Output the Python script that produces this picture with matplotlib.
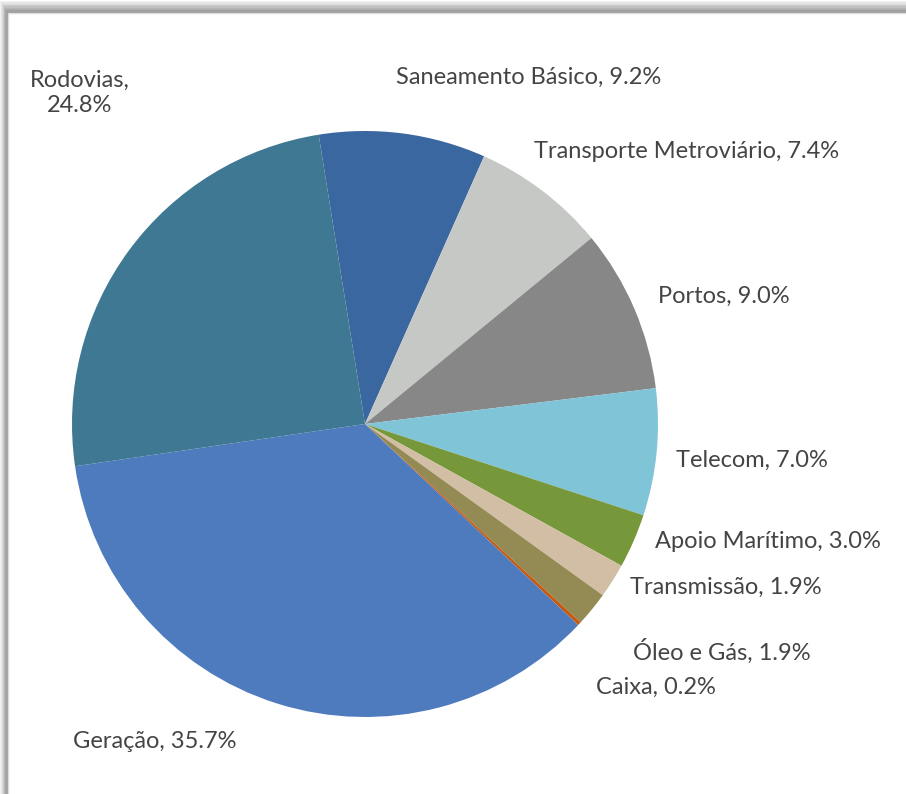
import matplotlib
matplotlib.use("Agg")
import matplotlib.pyplot as plt
from matplotlib.patches import Rectangle

# data, clockwise starting from the top
labels = ["Saneamento Básico", "Transporte Metroviário", "Portos", "Telecom",
          "Apoio Marítimo", "Transmissão", "Óleo e Gás", "Caixa", "Geração", "Rodovias"]
values = [9.2, 7.4, 9.0, 7.0, 3.0, 1.9, 1.9, 0.2, 35.7, 24.8]
colors = ["#3B67A0", "#C6C8C5", "#878787", "#80C4D8", "#77973B",
          "#D2BEA4", "#948A54", "#C55A11", "#4E7BBE", "#3E7892"]

# label centres in pixels (x, y from top)
label_pos = [(529, 77), (687, 151), (724, 296), (752, 460), (768, 541),
             (726, 587), (722, 651), (656, 687), (155, 741), (80, 93)]

W, H = 906, 794
fig = plt.figure(figsize=(W / 100, H / 100), dpi=100)

# background with drop shadow on top/left
bg = fig.add_axes([0, 0, 1, 1])
bg.set_xlim(0, W)
bg.set_ylim(H, 0)
bg.axis("off")
bg.add_patch(Rectangle((0, 0), W, H, color="white"))
shades = ["#f2f2f2", "#e6e6e6", "#dadada", "#cdcdcd", "#c1c1c1", "#b5b5b5",
          "#aaaaaa", "#a2a2a2", "#9c9c9c"]
n = len(shades)
for i, c in enumerate(shades):
    top = 1 + i * 12 / n
    left = i * 8 / n
    bg.add_patch(Rectangle((left, top), W, H, color=c, lw=0))
bg.add_patch(Rectangle((8, 13), W, H, facecolor="white", edgecolor="#dddddd", lw=1))

# pie
cx, cy, r = 365, 424, 293
ax = fig.add_axes([(cx - r) / W, (H - cy - r) / H, 2 * r / W, 2 * r / H])
ax.pie(values, colors=colors, startangle=99.1, counterclock=False,
       wedgeprops=dict(linewidth=0))
ax.set_xlim(-1, 1)
ax.set_ylim(-1, 1)
ax.axis("off")

plt.rcParams['font.family'] = ['Lato', 'DejaVu Sans']
for lab, v, (x, y) in zip(labels, values, label_pos):
    if lab == "Rodovias":
        txt = "%s,\n%.1f%%" % (lab, v)
    else:
        txt = "%s, %.1f%%" % (lab, v)
    fig.text(x / W, 1 - y / H, txt, ha="center", va="center", fontsize=17,
             color="#444444", linespacing=1.2,
             family=['Lato', 'DejaVu Sans'])

fig.savefig("out.png", dpi=100)
